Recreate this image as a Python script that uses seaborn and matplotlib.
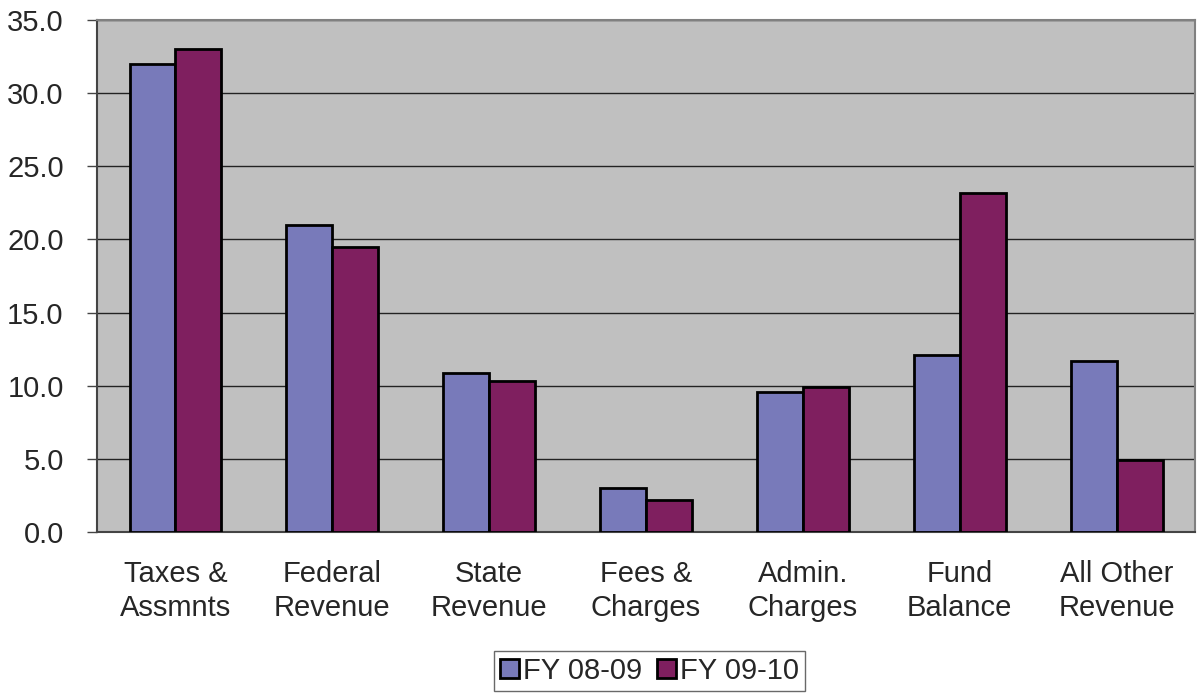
import pandas as pd
import matplotlib
matplotlib.use("Agg")
import matplotlib.pyplot as plt
import seaborn as sns

# revenue by source, two fiscal years
categories = ["Taxes &\nAssmnts", "Federal\nRevenue", "State\nRevenue", "Fees &\nCharges",
              "Admin.\nCharges", "Fund\nBalance", "All Other\nRevenue"]
fy0809 = [32.0, 21.0, 10.9, 3.0, 9.6, 12.1, 11.7]
fy0910 = [33.0, 19.5, 10.3, 2.2, 9.9, 23.2, 4.95]
series = ["FY 08-09", "FY 09-10"]
colors = ["#787ABA", "#7F1F5F"]

df = pd.DataFrame({
    "cat": categories * 2,
    "value": fy0809 + fy0910,
    "year": [series[0]] * len(categories) + [series[1]] * len(categories),
})

sns.set_style("white")
plt.rcParams["font.family"] = ["Liberation Sans", "DejaVu Sans"]

fig = plt.figure(figsize=(12.01, 6.94), dpi=100)
ax = fig.add_axes([0.0808, 0.2334, 0.9142, 0.7378])
ax.set_facecolor("#C0C0C0")

sns.barplot(data=df, x="cat", y="value", hue="year", palette=colors, width=0.586,
            saturation=1, edgecolor="black", linewidth=2, ax=ax, legend=True, zorder=3)

ax.set_ylim(0, 35)
ax.set_yticks(range(0, 36, 5))
ax.set_yticklabels([f"{v:.1f}" for v in range(0, 36, 5)], fontsize=21)
ax.yaxis.grid(True, color="#222222", linewidth=1)
ax.set_axisbelow(True)
ax.set_xlim(-0.5, len(categories) - 0.5)
ax.set_xlabel("")
ax.set_ylabel("")

# category labels between tick marks
ax.set_xticks([i + 0.5 for i in range(-1, len(categories))], minor=False)
ax.set_xticklabels([])
ax.set_xticks(range(len(categories)), minor=True)
ax.set_xticklabels(categories, minor=True, fontsize=21, linespacing=1.3)
ax.tick_params(axis="x", which="minor", length=0, pad=20)
ax.tick_params(axis="x", which="major", length=7, width=1, color="#444444", direction="out")
ax.tick_params(axis="y", length=7, width=1, color="#444444", direction="out", pad=17, left=True)

for s in ["top", "right"]:
    ax.spines[s].set_color("#808080")
    ax.spines[s].set_linewidth(1.5)
for s in ["left", "bottom"]:
    ax.spines[s].set_color("#444444")
    ax.spines[s].set_linewidth(1.5)

handles, labels = ax.get_legend_handles_labels()
leg = ax.legend(handles, labels, loc="lower center", bbox_to_anchor=(0.503, -0.31),
                ncol=2, fontsize=21, frameon=True, fancybox=False, handlelength=0.65,
                handleheight=0.65, handletextpad=0.15, columnspacing=0.5, borderpad=0.2,
                borderaxespad=0)
leg.get_frame().set_edgecolor("#444444")
leg.get_frame().set_linewidth(1)
leg.get_frame().set_facecolor("white")

fig.savefig("out.png", dpi=100)
